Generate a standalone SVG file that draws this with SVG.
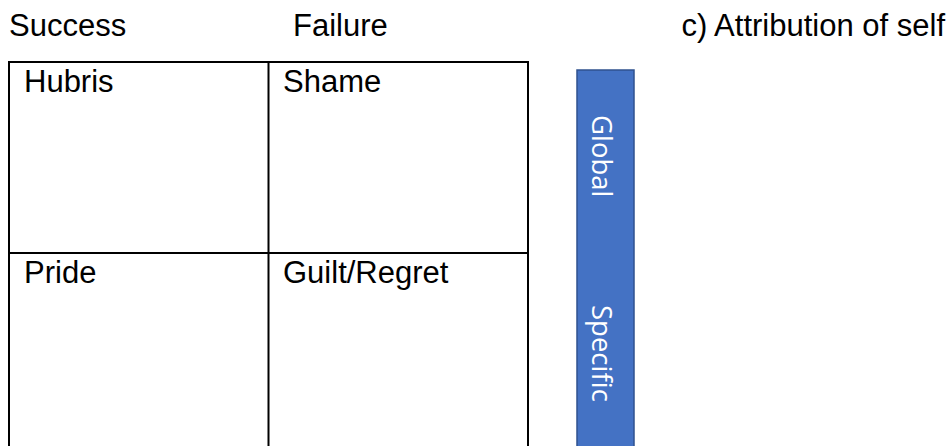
<svg xmlns="http://www.w3.org/2000/svg" width="947" height="446" viewBox="0 0 947 446">
  <style>
    .lbl { font-family: "Liberation Sans", Arial, sans-serif; font-size: 31px; fill: #000; }
    .grid { stroke: #000; stroke-width: 2; fill: none; }
    .vert { font-family: "Open Sans", "Liberation Sans", sans-serif; font-size: 27.5px; fill: #fff; }
  </style>
  <rect width="947" height="446" fill="#fff"/>

  <!-- column headings -->
  <g id="headings">
    <text class="lbl" x="9" y="36">Success</text>
    <text class="lbl" x="293" y="36">Failure</text>
    <text class="lbl" x="945" y="36" text-anchor="end">c) Attribution of self</text>
  </g>

  <!-- 2x2 table -->
  <g id="table">
    <path class="grid" d="M9 446 V62 H528 V446 M268.5 62 V446 M9 253 H528"/>
  </g>
  <g id="cell-hubris"><text class="lbl" x="24" y="92">Hubris</text></g>
  <g id="cell-shame"><text class="lbl" x="283" y="92">Shame</text></g>
  <g id="cell-pride"><text class="lbl" x="24" y="283">Pride</text></g>
  <g id="cell-guilt"><text class="lbl" x="283" y="283">Guilt/Regret</text></g>

  <!-- global/specific scale bar -->
  <g id="scale-bar">
    <rect x="577" y="70" width="57" height="390" fill="#4472C4" stroke="#2F528F" stroke-width="1.5"/>
    <text class="vert" transform="translate(592 115) rotate(90)">Global</text>
    <text class="vert" transform="translate(592 305) rotate(90)">Specific</text>
  </g>
</svg>
